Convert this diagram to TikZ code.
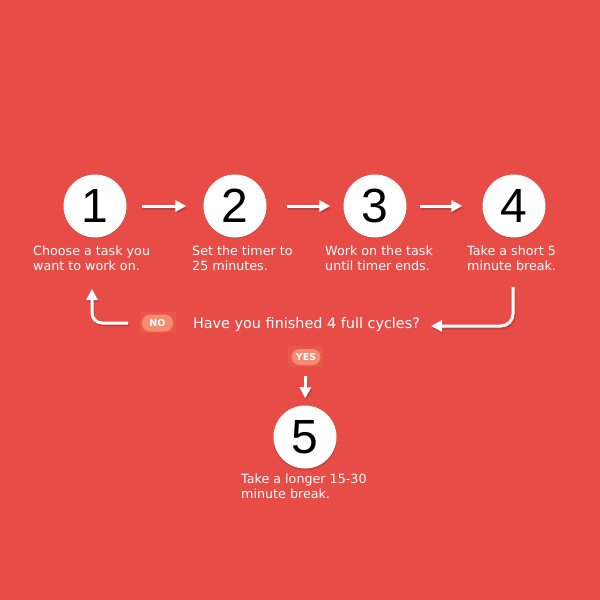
\documentclass[tikz,border=0pt]{standalone}
\usepackage{fontspec}
\setmainfont{DejaVu Sans}
\newfontfamily\digitfont{Liberation Sans}
\usetikzlibrary{arrows.meta}
\definecolor{bg}{HTML}{E84C46}
\definecolor{badgebg}{HTML}{EA5649}
\definecolor{badge}{HTML}{F58C6F}
\begin{document}
\begin{tikzpicture}[x=1pt,y=-1pt,
  circ/.style={circle, fill=white, minimum size=63pt, inner sep=0pt,
    font=\digitfont\fontsize{48}{48}\selectfont, text=black},
  circsh/.style={circle, fill=black, opacity=0.12, minimum size=63pt, inner sep=0pt},
  lbl/.style={anchor=north west, align=left, inner sep=0pt, text=white,
    font=\fontsize{12.7}{14.5}\selectfont},
  arr/.style={draw=white, line width=3pt, -{Triangle[length=11pt,width=11pt]}},
  arrsh/.style={draw=black, opacity=0.15, line width=3pt, -{Triangle[length=11pt,width=11pt]},
    transform canvas={shift={(1pt,-2pt)}}},
  badgestyle/.style={fill=badge, rounded corners=8pt, text=white, inner sep=0pt,
    font=\bfseries\fontsize{9.5}{9.5}\selectfont},
  badgeframe/.style={fill=badgebg, inner sep=0pt}
]
\useasboundingbox[fill=bg] (0,0) rectangle (600,600);

% circle shadows
\foreach \x/\y in {95/207,235/207,375/207,514/207,305/439}
  \node[circsh] at (\x,\y) {};

% circles
\node[circ] (c1) at (95,206) {1};
\node[circ] (c2) at (235,206) {2};
\node[circ] (c3) at (375,206) {3};
\node[circ] (c4) at (514,206) {4};
\node[circ] (c5) at (305,437) {5};

% labels
\node[lbl] (l1) at (33,246) {Choose a task you\\want to work on.};
\node[lbl] (l2) at (192,246) {Set the timer to\\25 minutes.};
\node[lbl] (l3) at (325,246) {Work on the task\\until timer ends.};
\node[lbl] (l4) at (467,246) {Take a short 5\\minute break.};
\node[lbl] (l5) at (241,474) {Take a longer 15-30\\minute break.};

% question
\node[anchor=base, inner sep=0pt, text=white, font=\fontsize{14.4}{16}\selectfont]
  (q) at (306.5,328) {Have you finished 4 full cycles?};

% badges
\node[badgeframe, minimum width=36pt, minimum height=21pt] (nof) at (158,322.5) {};
\node[badgestyle, minimum width=31pt, minimum height=17pt] (no) at (157.5,323) {NO};
\node[badgeframe, minimum width=35pt, minimum height=21pt] (yesf) at (305.5,356.5) {};
\node[badgestyle, minimum width=29pt, minimum height=16pt] (yes) at (306,357) {YES};

% loop coordinates
\coordinate (r1) at (513,287);
\coordinate (qin) at (431,326);
\coordinate (lout) at (128,323);
\coordinate (lin) at (92,289);

% arrow shadows
\draw[arrsh, shorten <=15pt, shorten >=17pt] (c1) -- (c2);
\draw[arrsh, shorten <=20pt, shorten >=13pt] (c2) -- (c3);
\draw[arrsh, shorten <=13pt, shorten >=20pt] (c3) -- (c4);
\draw[arrsh, rounded corners=12pt] (r1) |- (qin);
\draw[arrsh, rounded corners=10pt] (lout) -| (lin);
\draw[arrsh, shorten <=11pt, shorten >=7pt] (yes.south) -- (c5.north);

% arrows
\draw[arr, shorten <=15pt, shorten >=17pt] (c1) -- (c2);
\draw[arr, shorten <=20pt, shorten >=13pt] (c2) -- (c3);
\draw[arr, shorten <=13pt, shorten >=20pt] (c3) -- (c4);
\draw[arr, rounded corners=12pt] (r1) |- (qin);
\draw[arr, rounded corners=10pt] (lout) -| (lin);
\draw[arr, shorten <=11pt, shorten >=7pt] (yes.south) -- (c5.north);
\end{tikzpicture}
\end{document}
